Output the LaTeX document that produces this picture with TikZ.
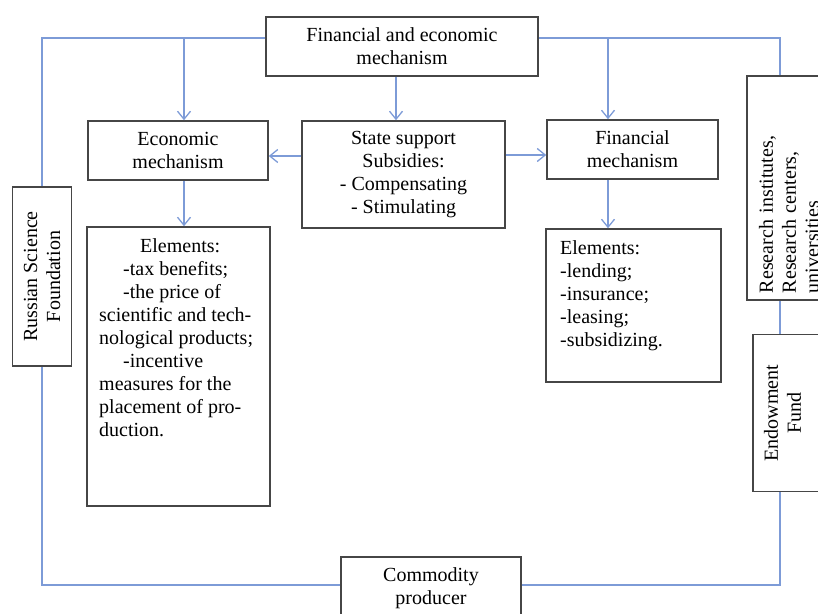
\documentclass[tikz,border=0pt]{standalone}
\usepackage{fontspec}
\setmainfont{Liberation Serif}
\usetikzlibrary{arrows.meta}
\definecolor{linkblue}{RGB}{125,155,215}
\definecolor{boxgray}{RGB}{70,70,70}

\begin{document}
\begin{tikzpicture}[x=1pt, y=-1pt,
	box/.style={draw=boxgray, line width=1.5pt, inner sep=0pt, align=center, font=\fontsize{20}{23}\selectfont},
	txt/.style={inner sep=0pt, align=left, font=\fontsize{20}{23}\selectfont},
	link/.style={draw=linkblue, line width=1.3pt},
	arr/.style={link, -{Straight Barb[length=8pt, width=13pt]}}]
	\useasboundingbox (0,0) rectangle (818,613);
	\clip (0,0) rectangle (818,613);

	\node[box, minimum width=272, minimum height=59] (fem) at (402,46.5) {Financial and economic\\mechanism};
	\node[box, minimum width=180, minimum height=59] (econ) at (178,150.5) {Economic\\mechanism};
	\node[box, minimum width=203, minimum height=107] (state) at (403.5,174.5) {State support\\Subsidies:\\- Compensating\\- Stimulating};
	\node[box, minimum width=171, minimum height=59] (finm) at (632.5,149.5) {Financial\\mechanism};
	\node[box, minimum width=183, minimum height=279] (eleml) at (178.5,366.5) {};
	\node[txt, anchor=north west] (elemltxt) at (99,238) {\hspace*{41pt}Elements:\\\hspace*{24pt}-tax benefits;\\\hspace*{24pt}-the price of\\scientific and tech-\\nological products;\\\hspace*{24pt}-incentive\\measures for the\\placement of pro-\\duction.};
	\node[box, minimum width=175, minimum height=153] (elemr) at (633.5,305.5) {};
	\node[txt, anchor=north west] (elemrtxt) at (560,240) {Elements:\\-lending;\\-insurance;\\-leasing;\\-subsidizing.};
	\node[box, rotate=90, minimum width=179, minimum height=59] (rsf) at (42,276.5) {Russian Science\\Foundation};
	\node[box, rotate=90, minimum height=84, text width=210pt, inner xsep=7pt, align=left] (res) at (789,188) {Research institutes,\\Research centers,\\universities};
	\node[box, minimum width=78, minimum height=157] (endow) at (792,413) {};
	\node[txt, rotate=90, align=center] (endowtxt) at (782.5,413) {Endowment\\Fund};
	\node[box, minimum width=180, minimum height=63] (prod) at (431,588.5) {Commodity\\producer};

	\coordinate (tl) at (42,38);
	\coordinate (tr) at (780,38);
	\coordinate (bl) at (42,585);
	\coordinate (br) at (780,585);

	\draw[link] (fem.west |- tl) -- (tl) -- (rsf);
	\draw[link] (rsf) -- (bl) -- (prod.west |- bl);
	\draw[link] (prod.east |- br) -- (br) -- (br |- endow.south);
	\draw[link] (br |- endow.north) -- (br |- res.west);
	\draw[link] (br |- res.east) -- (tr) -- (fem.east |- tr);

	\coordinate (econin) at ([xshift=6]econ.north);
	\coordinate (econout) at ([xshift=6]econ.south);
	\coordinate (stin) at ([xshift=-6]fem.south);
	\coordinate (finin) at ([xshift=-24.5]finm.north);
	\coordinate (finout) at ([xshift=-24.5]finm.south);
	\coordinate (stw) at ([yshift=18.5]state.west);
	\coordinate (ste) at ([yshift=19.5]state.east);

	\draw[arr] (econin |- tl) -- (econin);
	\draw[arr] (econout) -- (econout |- eleml.north);
	\draw[arr] (stin) -- (stin |- state.north);
	\draw[arr] (finin |- tr) -- (finin);
	\draw[arr] (finout) -- (finout |- elemr.north);
	\draw[arr] (stw) -- (stw -| econ.east);
	\draw[arr] (ste) -- (ste -| finm.west);
\end{tikzpicture}
\end{document}
